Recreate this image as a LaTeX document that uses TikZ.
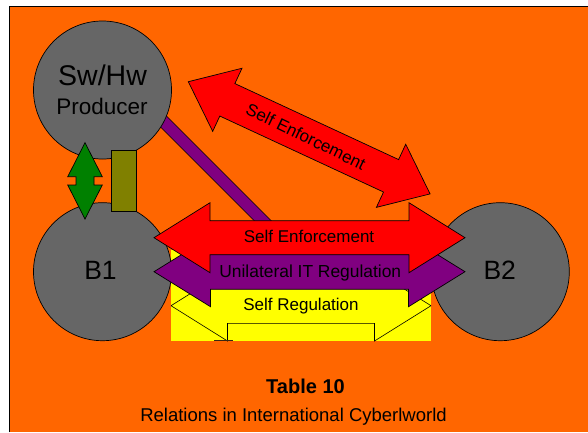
\documentclass[tikz,border=0pt]{standalone}
\usepackage{fontspec}
\setmainfont{Liberation Sans}
\definecolor{bgorange}{HTML}{FF6600}
\definecolor{hubgray}{HTML}{666666}
\definecolor{arrred}{HTML}{FF0000}
\definecolor{arrpurple}{HTML}{800080}
\definecolor{arrgreen}{HTML}{008000}
\definecolor{linkolive}{HTML}{808000}
\definecolor{regyellow}{HTML}{FFFF00}

% Block double arrow centred at the origin along the x axis:
% #1 style, #2 half length, #3 head length, #4 head half-width, #5 shaft half-width
\newcommand{\dblarrow}[5]{%
  \draw[#1] (-#2,0) -- (-#2+#3,#4) -- (-#2+#3,#5) -- (#2-#3,#5) -- (#2-#3,#4)
    -- (#2,0) -- (#2-#3,-#4) -- (#2-#3,-#5) -- (-#2+#3,-#5) -- (-#2+#3,-#4) -- cycle;}

\begin{document}
\begin{tikzpicture}[x=1pt,y=-1pt,
  outline/.style={draw=black, line width=0.7pt, line join=miter},
  hub/.style={circle, outline, fill=hubgray, minimum size=138pt, inner sep=0pt},
  lbl/.style={inner sep=0pt, anchor=base, text=black},
  arrowlbl/.style={lbl, font=\fontsize{17}{19}\selectfont}]

\useasboundingbox (0,0) rectangle (588,432);

% page and frame
\fill[white] (0,0) rectangle (588,432);
\fill[bgorange] (10,6.5) rectangle (588,432);
\draw[black, line width=1.2pt] (9.8,432) -- (9.8,6.2) -- (588,6.2);

% purple link from the producer down to the trade arrows
\draw[black, line width=12.4pt] (150,108) -- (280,238);
\draw[arrpurple, line width=11pt] (150,108) -- (280,238);

% parties
\node[hub] (prod) at (102.5,90) {};
\node[hub] (b1) at (102.5,271.7) {};
\node[hub] (b2) at (500.3,271.7) {};

% vertical link between producer and B1
\begin{scope}[shift={(85,180.85)}, rotate=90]
  \dblarrow{outline, fill=arrgreen}{38.15}{34}{17.3}{9}
\end{scope}
\draw[outline, fill=linkolive] (111,150.7) rectangle (136.7,211.7);

% diagonal self enforcement between producer side and B2
\begin{scope}[shift={(309.2,137.8)}, rotate=-24.9]
  \dblarrow{outline, fill=arrred}{133.25}{43}{34.8}{17.9}
\end{scope}
\node[arrowlbl, anchor=center, rotate=-26] (sediag) at (306,136.5) {Self Enforcement};

% self regulation picture
\begin{scope}
  \clip (171,250) rectangle (431,341);
  \fill[regyellow] (171,250) rectangle (431,341);
  \begin{scope}[shift={(301,305.7)}]
    \dblarrow{draw=black, line width=0.6pt, fill=regyellow}{130}{56.5}{35.3}{17.6}
  \end{scope}
  \draw[black!70!brown, line width=1.4pt] (214,340.6) -- (233,340.6);
\end{scope}

% unilateral regulation arrow
\begin{scope}[shift={(309.5,271.7)}]
  \dblarrow{outline, fill=arrpurple}{155.5}{56.5}{35}{17.6}
\end{scope}

% horizontal self enforcement arrow
\begin{scope}[shift={(309.5,237.7)}]
  \dblarrow{outline, fill=arrred}{155.5}{56}{35}{17}
\end{scope}

% labels
\node[lbl, font=\fontsize{28.5}{30}\selectfont] (prodname) at (102.5,85) {Sw/Hw};
\node[lbl, font=\fontsize{22.5}{24}\selectfont] (prodrole) at (102,114) {Producer};
\node[lbl, font=\fontsize{26.5}{28}\selectfont] (b1lbl) at (100.5,279.3) {B1};
\node[lbl, font=\fontsize{26.5}{28}\selectfont] (b2lbl) at (499.7,279.3) {B2};
\node[arrowlbl] (sehoriz) at (309,242.3) {Self Enforcement};
\node[arrowlbl, font=\fontsize{17.4}{19}\selectfont] (unireg) at (310.3,277.3) {Unilateral IT Regulation};
\node[arrowlbl] (selfreg) at (301,310.7) {Self Regulation};

% caption
\node[lbl, font=\bfseries\fontsize{20}{22}\selectfont] (captitle) at (305.5,393.3) {Table 10};
\node[lbl, font=\fontsize{18.5}{20}\selectfont] (capline) at (293.5,421.7) {Relations in International Cyberlworld};

\end{tikzpicture}
\end{document}
